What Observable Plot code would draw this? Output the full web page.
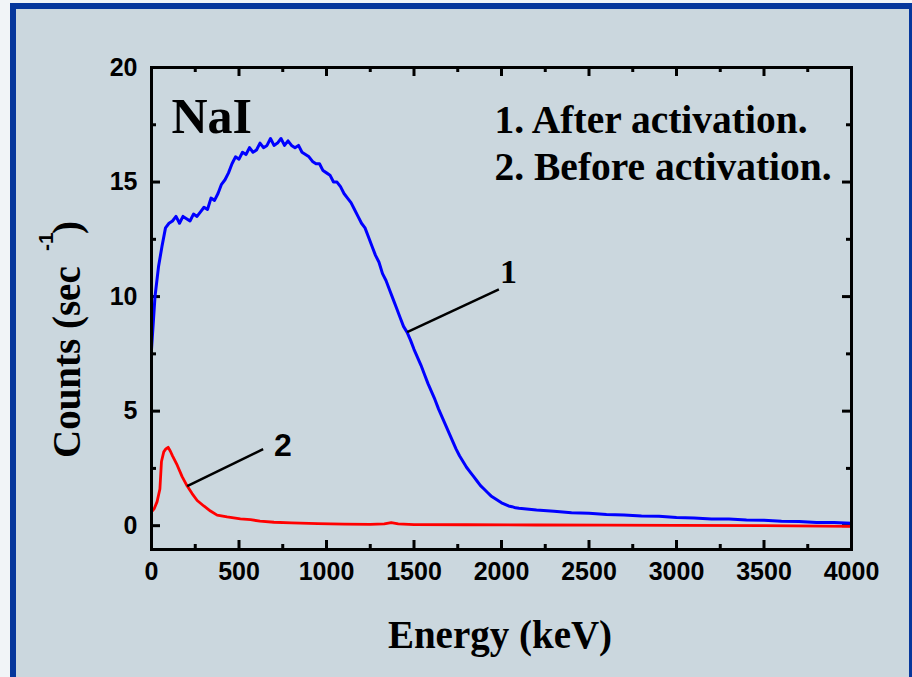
<!DOCTYPE html>
<html>
<head>
<meta charset="utf-8">
<script src="https://cdn.jsdelivr.net/npm/d3@7"></script>
<script src="https://cdn.jsdelivr.net/npm/@observablehq/plot@0.6"></script>
<style>
  html, body { margin: 0; padding: 0; overflow: hidden; background: #f1f4f7; }
  #wrap { position: relative; width: 912px; height: 677px; overflow: hidden; }
  #panel { position: absolute; left: 10px; top: 3px; width: 905px; height: 680px; box-sizing: border-box;
           border: 6px solid #06379c; background: #cbd7de; }
  #chart { position: absolute; left: 0; top: 0; }
</style>
</head>
<body>
<div id="wrap"><div id="panel"></div><div id="chart"></div></div>
<script>
// Series 1: after activation (Energy keV, Counts 1/s)
const energyAfter = [0,20,40,60,80,100,120,140,160,180,200,220,240,260,280,300,320,340,360,380,
  400,420,440,460,480,500,520,540,560,580,600,620,640,660,680,700,720,740,760,780,
  800,820,840,860,880,900,920,940,960,980,1000,1020,1040,1060,1080,1100,1120,1140,1160,1180,
  1200,1220,1240,1260,1280,1300,1320,1340,1360,1380,1400,1420,1440,1460,1480,1500,1520,1540,1560,1580,
  1600,1620,1640,1660,1680,1700,1720,1740,1760,1780,1800,1820,1840,1860,1880,1900,1920,1940,1960,1980,
  2000,2020,2040,2060,2080,2100,2200,2300,2400,2500,2600,2700,2800,2900,3000,3100,3200,3300,3400,3500,
  3600,3700,3800,3900,4000];
const countsAfter = [7.7,10.0,11.3,12.2,13.0,13.2,13.3,13.5,13.2,13.5,13.4,13.3,13.6,13.5,13.7,13.9,13.8,14.3,14.2,14.5,
  14.9,15.1,15.4,15.8,16.1,16.0,16.3,16.2,16.5,16.3,16.4,16.7,16.5,16.6,16.9,16.6,16.7,16.9,16.6,16.8,
  16.6,16.5,16.6,16.3,16.2,16.1,15.9,15.8,15.8,15.5,15.4,15.3,15.0,15.0,14.8,14.5,14.3,14.1,13.8,13.5,
  13.2,13.0,12.6,12.2,11.8,11.5,11.0,10.7,10.3,9.9,9.5,9.1,8.7,8.45,8.1,7.7,7.35,7.0,6.6,6.2,
  5.85,5.5,5.1,4.75,4.4,4.05,3.7,3.35,3.05,2.8,2.55,2.35,2.15,1.95,1.75,1.6,1.45,1.3,1.2,1.1,
  1.0,0.93,0.86,0.83,0.78,0.76,0.68,0.63,0.56,0.54,0.49,0.47,0.42,0.41,0.36,0.34,0.29,0.29,0.25,0.24,
  0.19,0.18,0.14,0.14,0.11];

// Series 2: before activation
const energyBefore = [0,16,32,48,57,70,82,95,108,120,147,175,204,232,261,299,337,375,432,508,
  566,620,700,800,950,1100,1250,1330,1370,1410,1500,1800,2200,2600,3000,3500,4000];
const countsBefore = [0.6,0.75,1.05,1.6,2.8,3.22,3.35,3.42,3.25,3.05,2.64,2.14,1.73,1.4,1.1,0.86,0.64,0.46,0.38,0.3,
  0.26,0.2,0.15,0.12,0.09,0.07,0.06,0.08,0.13,0.08,0.05,0.04,0.03,0.02,0.01,0.0,-0.03];

// Axis ticks
const xMajorTicks = [0,500,1000,1500,2000,2500,3000,3500,4000];
const xMinorTicks = [250,750,1250,1750,2250,2750,3250,3750];
const yMajorTicks = [0,5,10,15,20];
const yMinorTicks = [2.5,7.5,12.5,17.5];

// Annotations
const sampleLabel = ["NaI"];
const sampleLabelX = [114];
const sampleLabelY = [17.16];
const legendLines = ["1. After activation.", "2. Before activation."];
const legendX = [1960, 1960];
const legendY = [17.12, 15.07];
const curveLabels = ["1", "2"];
const curveLabelX = [2040, 751];
const curveLabelY = [10.58, 3.04];
const leaderX1 = [1461, 204];
const leaderY1 = [8.45, 1.73];
const leaderX2 = [1985, 638];
const leaderY2 = [10.31, 3.34];

const after = energyAfter.map((e, i) => ({e, c: countsAfter[i]}));
const before = energyBefore.map((e, i) => ({e, c: countsBefore[i]}));
const leaders = leaderX1.map((x, i) => ({x1: x, y1: leaderY1[i], x2: leaderX2[i], y2: leaderY2[i]}));

const W = 912, H = 677, mL = 151, mR = 61, mT = 67, mB = 128;
const innerW = W - mL - mR, innerH = H - mT - mB;
const serif = "'Liberation Serif', 'Times New Roman', serif";
const sans = "'Liberation Sans', Arial, sans-serif";

const chart = Plot.plot({
  width: W, height: H,
  marginLeft: mL, marginRight: mR, marginTop: mT, marginBottom: mB,
  style: {background: "none", fontFamily: sans, fontWeight: "bold", fontSize: "25px", color: "black"},
  x: {domain: [0, 4000], label: null},
  y: {domain: [-1.04, 20], label: null},
  marks: [
    Plot.axisX({ticks: xMajorTicks, tickFormat: d => String(d), tickSize: 0, tickPadding: 13, fontSize: 25, fontWeight: "bold", label: null}),
    Plot.axisY({ticks: yMajorTicks, tickFormat: d => String(d), tickSize: 0, tickPadding: 14, fontSize: 25, fontWeight: "bold", label: null}),
    // inward ticks
    Plot.ruleX(xMajorTicks, {x: d => d, insetTop: innerH - 9, strokeWidth: 3}),
    Plot.ruleX(xMinorTicks, {x: d => d, insetTop: innerH - 5, strokeWidth: 3}),
    Plot.ruleX(xMajorTicks, {x: d => d, insetBottom: innerH - 9, strokeWidth: 3}),
    Plot.ruleX(xMinorTicks, {x: d => d, insetBottom: innerH - 5, strokeWidth: 3}),
    Plot.ruleY(yMajorTicks, {y: d => d, insetRight: innerW - 9, strokeWidth: 3}),
    Plot.ruleY(yMinorTicks, {y: d => d, insetRight: innerW - 5, strokeWidth: 3}),
    Plot.ruleY(yMajorTicks, {y: d => d, insetLeft: innerW - 9, strokeWidth: 3}),
    Plot.ruleY(yMinorTicks, {y: d => d, insetLeft: innerW - 5, strokeWidth: 3}),
    // curves
    Plot.line(before, {x: "e", y: "c", stroke: "#ff0000", strokeWidth: 2.8, curve: "linear"}),
    Plot.line(after, {x: "e", y: "c", stroke: "#0000ff", strokeWidth: 3, curve: "linear"}),
    // leaders
    Plot.link(leaders, {x1: "x1", y1: "y1", x2: "x2", y2: "y2", stroke: "black", strokeWidth: 2.5}),
    // texts
    Plot.text(sampleLabel, {x: (d, i) => sampleLabelX[i], y: (d, i) => sampleLabelY[i], text: d => d,
      textAnchor: "start", lineAnchor: "bottom", fontFamily: serif, fontWeight: "bold", fontSize: 50, fill: "black"}),
    Plot.text(legendLines, {x: (d, i) => legendX[i], y: (d, i) => legendY[i], text: d => d,
      textAnchor: "start", lineAnchor: "bottom", fontFamily: serif, fontWeight: "bold", fontSize: 39.5, fill: "black"}),
    Plot.text([curveLabels[0]], {x: () => curveLabelX[0], y: () => curveLabelY[0], text: d => d,
      textAnchor: "middle", lineAnchor: "bottom", fontFamily: serif, fontWeight: "bold", fontSize: 34, fill: "black"}),
    Plot.text([curveLabels[1]], {x: () => curveLabelX[1], y: () => curveLabelY[1], text: d => d,
      textAnchor: "middle", lineAnchor: "bottom", fontFamily: sans, fontWeight: "bold", fontSize: 32, fill: "black"}),
    Plot.frame({stroke: "black", strokeWidth: 3})
  ]
});

const svg = d3.select(chart);
// x-axis title
svg.append("text")
  .attr("x", 500).attr("y", 648)
  .attr("text-anchor", "middle")
  .attr("font-family", serif).attr("font-weight", "bold").attr("font-size", 39)
  .attr("fill", "black")
  .text("Energy (keV)");
// y-axis title with superscript
svg.append("text")
  .attr("transform", "translate(80,458) rotate(-90)")
  .attr("text-anchor", "start")
  .attr("font-family", serif).attr("font-weight", "bold").attr("font-size", 39)
  .attr("fill", "black")
  .text("Counts (sec");
svg.append("text")
  .attr("transform", "translate(53,251) rotate(-90)")
  .attr("text-anchor", "start")
  .attr("font-family", sans).attr("font-weight", "bold").attr("font-size", 21)
  .attr("fill", "black")
  .text("-1");
svg.append("text")
  .attr("transform", "translate(80,234) rotate(-90)")
  .attr("text-anchor", "start")
  .attr("font-family", serif).attr("font-weight", "bold").attr("font-size", 39)
  .attr("fill", "black")
  .text(")");

document.getElementById("chart").appendChild(chart);
</script>
</body>
</html>
